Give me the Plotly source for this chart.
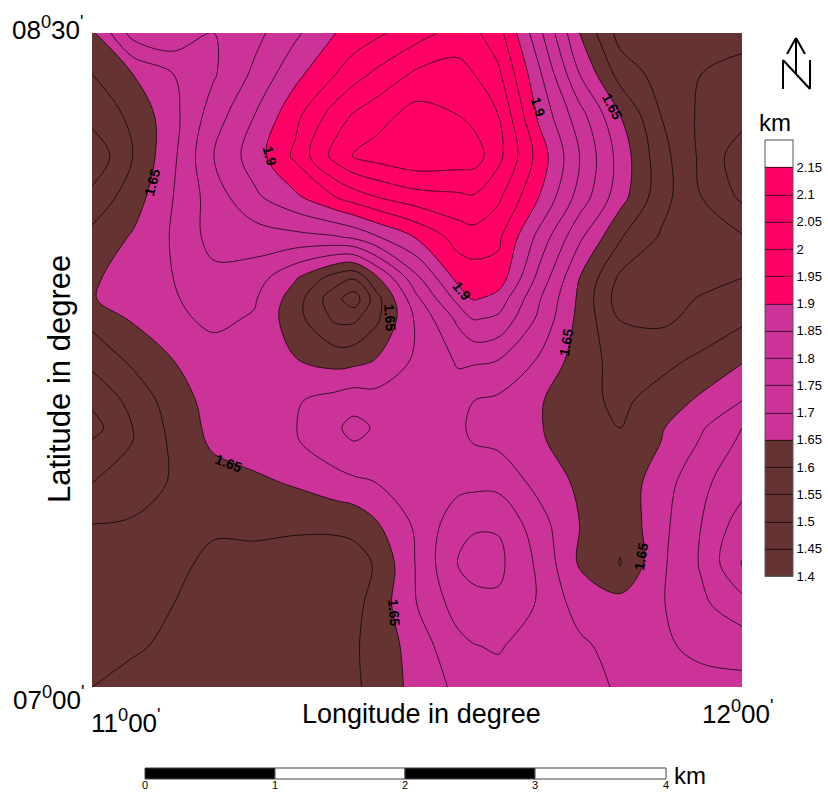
import plotly.graph_objects as go

lon = [11.0, 11.0625, 11.125, 11.1875, 11.25, 11.3125, 11.375, 11.403, 11.4375, 11.5,
       11.5625, 11.5877, 11.625, 11.6875, 11.75, 11.8125, 11.875, 11.9375, 12.0]
lat = [8.5, 8.406, 8.312, 8.218, 8.124, 8.032, 7.938, 7.89, 7.844, 7.75,
       7.656, 7.594, 7.562, 7.468, 7.374, 7.282, 7.188, 7.094, 7.0]
depth = [
 [1.64,1.77,1.79,1.75,1.785,1.84,1.90,1.92,1.94,1.98,2.02,2.01,1.97,1.815,1.65,1.53,1.52,1.52,1.51],
 [1.60,1.65,1.70,1.745,1.81,1.885,1.95,1.98,2.01,2.06,2.07,2.05,2.01,1.86,1.70,1.58,1.53,1.50,1.49],
 [1.57,1.61,1.685,1.775,1.85,1.935,2.025,2.055,2.08,2.12,2.10,2.085,2.05,1.89,1.77,1.65,1.55,1.49,1.47],
 [1.51,1.60,1.69,1.80,1.875,1.96,2.07,2.105,2.12,2.14,2.13,2.125,2.065,1.93,1.80,1.68,1.57,1.49,1.42],
 [1.565,1.625,1.70,1.775,1.84,1.89,1.95,1.975,2.00,2.03,2.04,2.045,2.01,1.90,1.78,1.67,1.57,1.50,1.44],
 [1.615,1.655,1.705,1.77,1.775,1.785,1.795,1.81,1.845,1.905,1.97,1.98,1.96,1.835,1.71,1.605,1.545,1.52,1.505],
 [1.642,1.675,1.70,1.735,1.725,1.655,1.575,1.555,1.64,1.79,1.915,1.925,1.93,1.785,1.65,1.54,1.525,1.53,1.55],
 [1.648,1.665,1.695,1.725,1.705,1.625,1.515,1.47,1.58,1.74,1.865,1.905,1.88,1.755,1.64,1.525,1.525,1.555,1.57],
 [1.615,1.655,1.69,1.71,1.695,1.62,1.54,1.54,1.59,1.71,1.81,1.853,1.84,1.74,1.635,1.548,1.54,1.565,1.59],
 [1.565,1.61,1.65,1.68,1.68,1.652,1.63,1.635,1.652,1.71,1.755,1.757,1.75,1.695,1.625,1.58,1.585,1.61,1.645],
 [1.51,1.565,1.625,1.67,1.68,1.695,1.72,1.731,1.722,1.725,1.73,1.70,1.69,1.655,1.615,1.59,1.62,1.66,1.70],
 [1.48,1.55,1.615,1.665,1.685,1.698,1.7425,1.765,1.744,1.735,1.705,1.695,1.685,1.655,1.61,1.60,1.645,1.695,1.75],
 [1.505,1.55,1.61,1.66,1.675,1.695,1.735,1.749,1.737,1.73,1.72,1.697,1.69,1.66,1.61,1.61,1.65,1.705,1.76],
 [1.55,1.575,1.605,1.625,1.64,1.655,1.68,1.69,1.70,1.725,1.735,1.737,1.735,1.685,1.64,1.62,1.675,1.74,1.78],
 [1.60,1.605,1.615,1.61,1.615,1.61,1.61,1.615,1.645,1.71,1.78,1.795,1.795,1.72,1.65,1.61,1.685,1.75,1.825],
 [1.63,1.635,1.615,1.585,1.58,1.575,1.575,1.58,1.605,1.705,1.803,1.815,1.812,1.74,1.645,1.598,1.69,1.755,1.853],
 [1.63,1.625,1.60,1.57,1.56,1.56,1.565,1.585,1.62,1.70,1.77,1.785,1.79,1.745,1.68,1.67,1.695,1.74,1.78],
 [1.615,1.61,1.585,1.565,1.56,1.56,1.565,1.595,1.615,1.675,1.735,1.748,1.755,1.725,1.71,1.68,1.69,1.715,1.722],
 [1.60,1.575,1.565,1.56,1.56,1.56,1.565,1.595,1.61,1.67,1.71,1.725,1.73,1.73,1.715,1.695,1.68,1.68,1.685],
]
legend_ticks = [1.4,1.45,1.5,1.55,1.6,1.65,1.7,1.75,1.8,1.85,1.9,1.95,2,2.05,2.1,2.15]

BROWN, MAGENTA, RED, WHITE = "#663333", "#CC3399", "#FF0066", "#FFFFFF"
ZMIN, ZTOP, ZMAX = 1.4, 2.15, 2.2
def f(v): return (v - ZMIN) / (ZTOP - ZMIN)
colorscale = [[0, BROWN], [f(1.65), BROWN], [f(1.65), MAGENTA], [f(1.9), MAGENTA],
              [f(1.9), RED], [0.985, RED], [0.985, WHITE], [1, WHITE]]

L, R, T, B = 92, 742, 33, 687
W, H = 828, 792
def X(p): return (p - L) / (R - L)
def Y(p): return (B - p) / (B - T)

fig = go.Figure(go.Contour(
    x=lon, y=lat, z=depth, zmin=ZMIN, zmax=ZMAX, zauto=False,
    autocontour=False,
    contours=dict(start=1.4, end=2.15, size=0.05, coloring="fill", showlines=True),
    line=dict(color="black", width=0.7, smoothing=1.0),
    colorscale=colorscale, hoverinfo="skip",
    colorbar=dict(
        thickness=28, thicknessmode="pixels", len=436, lenmode="pixels",
        x=X(765), xanchor="left", xref="paper", y=Y(576), yanchor="bottom", yref="paper",
        outlinecolor="#555555", outlinewidth=1, xpad=0, ypad=0,
        tickvals=legend_ticks, ticktext=[f"{t:g}" for t in legend_ticks], ticks="",
        tickfont=dict(family="Liberation Sans", size=13, color="black"),
    ),
))

SANS = "Liberation Sans"
anns = []
def text(p, q, s, size, angle=0, anchor="center", bold=False):
    anns.append(dict(x=X(p), y=Y(q), xref="paper", yref="paper", text=f"<b>{s}</b>" if bold else s,
                     showarrow=False, textangle=angle, xanchor=anchor, yanchor="middle",
                     font=dict(family=SANS, size=size, color="black")))

text(47, 29, "08<sup>0</sup>30<sup>'</sup>", 26)
text(48, 698, "07<sup>0</sup>00<sup>'</sup>", 26)
text(126, 721, "11<sup>0</sup>00<sup>'</sup>", 26)
text(737, 712, "12<sup>0</sup>00<sup>'</sup>", 26)
text(421, 714, "Longitude in degree", 27)
text(59, 379, "Latitude in degree", 31, angle=-90)
text(775, 122, "km", 24)
text(690, 776, "km", 24)

labels = [(270,156,"1.9",75),(152,183,"1.65",-75),(538,107,"1.9",72),(612,106,"1.65",62),
          (462,291,"1.9",50),(390,317,"1.65",85),(566,343,"1.65",-80),(228,463,"1.65",20),
          (394,612,"1.65",85),(641,557,"1.65",-80)]
for p, q, s, a in labels:
    text(p, q, s, 14, angle=a, bold=True)

scale_x = [145, 275, 405, 535, 666]
shapes = []
for i in range(4):
    shapes.append(dict(type="rect", xref="paper", yref="paper", x0=X(scale_x[i]), x1=X(scale_x[i+1]),
                       y0=Y(779), y1=Y(768), fillcolor="black" if i % 2 == 0 else "white",
                       line=dict(color="#444444", width=1)))
for i, p in enumerate(scale_x):
    text(p, 785, str(i), 11)

def seg(a, b, c, d, w=2):
    shapes.append(dict(type="line", xref="paper", yref="paper", x0=X(a), y0=Y(b), x1=X(c), y1=Y(d),
                       line=dict(color="black", width=w)))
seg(783, 89, 783, 60); seg(783, 60, 810, 89); seg(810, 89, 810, 60)
seg(796, 38, 796, 74); seg(796, 38, 787, 54); seg(796, 38, 805, 54)

fig.update_layout(
    width=W, height=H, autosize=False,
    margin=dict(l=L, r=W-R, t=T, b=H-B, pad=0, autoexpand=False),
    paper_bgcolor="white", plot_bgcolor="white",
    xaxis=dict(visible=False, range=[11, 12], constrain="domain"),
    yaxis=dict(visible=False, range=[7, 8.5]),
    annotations=anns, shapes=shapes, showlegend=False,
)
fig.write_html("out.html", config=dict(displayModeBar=False),
               post_script="document.body.style.margin='0';")
